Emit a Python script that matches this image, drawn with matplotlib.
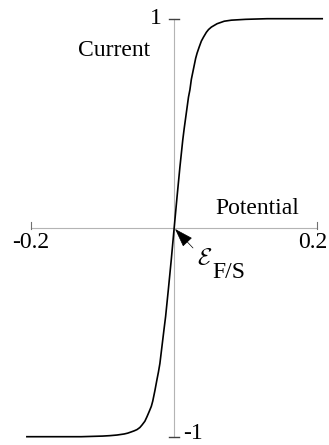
import matplotlib.pyplot as plt

potential = [-0.206, -0.130, -0.100, -0.090, -0.080, -0.070, -0.065, -0.060,
             -0.056, -0.052, -0.048, -0.045, -0.041, -0.038, -0.035, -0.032,
             -0.030, -0.027, -0.024, -0.022, -0.020, -0.017, -0.014, -0.012,
             -0.008, -0.004, 0.000, 0.004, 0.008, 0.012, 0.014, 0.017, 0.020,
             0.022, 0.024, 0.027, 0.030, 0.032, 0.035, 0.038, 0.041, 0.045,
             0.048, 0.052, 0.056, 0.060, 0.065, 0.070, 0.080, 0.090, 0.100,
             0.130, 0.207]
current = [-1.0, -1.0, -0.997, -0.995, -0.992, -0.987, -0.983, -0.977,
           -0.972, -0.966, -0.956, -0.944, -0.926, -0.904, -0.880, -0.855,
           -0.830, -0.780, -0.725, -0.690, -0.650, -0.565, -0.480, -0.425,
           -0.290, -0.150, 0.000, 0.148, 0.290, 0.420, 0.475, 0.550, 0.625,
           0.660, 0.710, 0.760, 0.810, 0.835, 0.865, 0.893, 0.912, 0.935,
           0.948, 0.960, 0.968, 0.976, 0.982, 0.988, 0.993, 0.995, 0.997,
           1.0, 1.0]

x_ticks = [-0.2, 0.2]
x_tick_labels = ['-0.2', '0.2']
y_ticks = [-1, 1]
y_tick_labels = ['-1', '1']

plt.rcParams['font.family'] = ['Liberation Serif', 'DejaVu Serif']
fs = 17

fig = plt.figure(figsize=(3.29, 4.45), dpi=100)
ax = fig.add_axes([0, 0, 1, 1])
ax.set_xlim(-0.2436, 0.2165)
ax.set_ylim(-1.0397, 1.0895)
ax.axis('off')

# axes through the origin
axis_col = '#b4b4b4'
ax.plot([x_ticks[0], x_ticks[1]], [0, 0], color=axis_col, lw=0.8, zorder=1)
ax.plot([0, 0], [y_ticks[0], y_ticks[1]], color=axis_col, lw=0.8, zorder=1)

# end ticks
for xt in x_ticks:
    ax.plot([xt, xt], [-0.008, 0.028], color='#707070', lw=0.8)
ax.text(x_ticks[0], -0.022, x_tick_labels[0], ha='center', va='top', fontsize=fs)
ax.text(0.2145, -0.022, x_tick_labels[1], ha='right', va='top', fontsize=fs)
for yt in y_ticks:
    ax.plot([-0.007, 0.007], [yt, yt], color='#404040', lw=1.0)
ax.text(-0.018, 1.0, y_tick_labels[1], ha='right', va='center', fontsize=fs)
ax.text(0.012, -1.036, y_tick_labels[0], ha='left', va='bottom', fontsize=fs)

ax.plot(potential, current, color='black', lw=1.2, zorder=3)

ax.text(-0.084, 0.85, 'Current', ha='center', va='center', fontsize=fs)
ax.text(0.116, 0.09, 'Potential', ha='center', va='center', fontsize=fs)

ax.annotate('', xy=(0.0012, -0.006), xytext=(0.0263, -0.097),
            arrowprops=dict(arrowstyle='-|>,head_length=1.2,head_width=0.4',
                            color='black', lw=0.5, shrinkA=0, shrinkB=0))
ax.text(0.0431, -0.146, r'$\mathcal{E}$', ha='center', va='center',
        fontsize=fs, math_fontfamily='cm')
ax.text(0.053, -0.213, 'F/S', ha='left', va='center', fontsize=fs)

fig.savefig('out.png', dpi=100)
